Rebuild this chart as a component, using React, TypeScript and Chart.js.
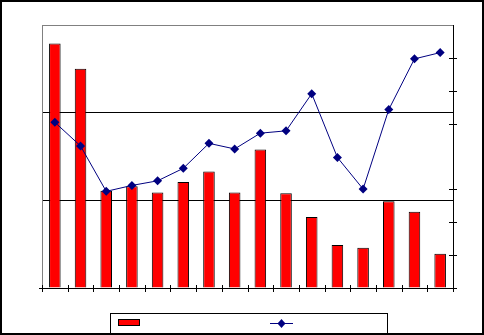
import React, { useEffect, useRef } from "react";
import { Chart, registerables } from "chart.js";

Chart.register(...registerables);

const categories: string[] = ["1", "2", "3", "4", "5", "6", "7", "8", "9", "10", "11", "12", "13", "14", "15", "16"];
const barValues: number[] = [2.79, 2.5, 1.11, 1.16, 1.09, 1.21, 1.33, 1.09, 1.58, 1.08, 0.81, 0.49, 0.46, 0.99, 0.87, 0.39];
const lineValues: number[] = [5.04, 4.32, 2.94, 3.12, 3.26, 3.64, 4.4, 4.23, 4.71, 4.78, 5.91, 3.97, 3.01, 5.43, 6.97, 7.16];
const rightTicks: number[] = [0, 1, 2, 3, 5, 6, 7];

const decorPlugin = {
  id: "decor",
  afterDraw(chart: any) {
    const ctx = chart.ctx;
    const area = chart.chartArea;
    const x = chart.scales.x;
    const y1 = chart.scales.y1;
    ctx.save();
    ctx.strokeStyle = "#000";
    ctx.lineWidth = 1;
    // category ticks (crossing)
    const n = categories.length;
    const w = (area.right - area.left) / n;
    for (let i = 0; i <= n; i++) {
      const px = Math.round(area.left + i * w) + 0.5;
      ctx.beginPath();
      ctx.moveTo(px, area.bottom - 3);
      ctx.lineTo(px, area.bottom + 4);
      ctx.stroke();
    }
    // extend x axis slightly left
    ctx.beginPath();
    ctx.moveTo(area.left - 3, Math.round(area.bottom) + 0.5);
    ctx.lineTo(area.left, Math.round(area.bottom) + 0.5);
    ctx.stroke();
    // right axis ticks (crossing)
    for (const v of rightTicks) {
      const py = Math.round(y1.getPixelForValue(v)) + 0.5;
      ctx.beginPath();
      ctx.moveTo(area.right - 4, py);
      ctx.lineTo(area.right + 4, py);
      ctx.stroke();
    }
    // legend box
    ctx.fillStyle = "#fff";
    ctx.fillRect(110, 313, 278, 22);
    ctx.strokeRect(110.5, 313.5, 277, 22);
    ctx.fillStyle = "#ff0000";
    ctx.fillRect(118, 319, 22, 7);
    ctx.strokeRect(118.5, 319.5, 21, 6);
    ctx.strokeStyle = "#000080";
    ctx.beginPath();
    ctx.moveTo(270, 323.5);
    ctx.lineTo(293, 323.5);
    ctx.stroke();
    ctx.fillStyle = "#000080";
    ctx.beginPath();
    ctx.moveTo(281.5, 319);
    ctx.lineTo(285.5, 323.5);
    ctx.lineTo(281.5, 328);
    ctx.lineTo(277.5, 323.5);
    ctx.closePath();
    ctx.fill();
    // outer border
    ctx.strokeStyle = "#000";
    ctx.lineWidth = 2;
    ctx.strokeRect(1, 1, chart.width - 2, chart.height - 2);
    ctx.restore();
  },
};

export default function App() {
  const ref = useRef<HTMLCanvasElement | null>(null);
  useEffect(() => {
    if (!ref.current) return;
    const chart = new Chart(ref.current, {
      type: "bar",
      data: {
        labels: categories,
        datasets: [
          {
            type: "line",
            data: lineValues,
            yAxisID: "y1",
            borderColor: "#000080",
            backgroundColor: "#000080",
            borderWidth: 1,
            pointStyle: "rectRot",
            pointRadius: 4.5,
            pointBackgroundColor: "#000080",
            pointBorderColor: "#000080",
            pointBorderWidth: 0,
            tension: 0,
            order: 0,
          } as any,
          {
            type: "bar",
            data: barValues,
            yAxisID: "y",
            backgroundColor: "#ff0000",
            borderColor: "#000",
            borderWidth: 1,
            categoryPercentage: 1,
            barPercentage: 0.45,
            order: 1,
          } as any,
        ],
      },
      options: {
        animation: false,
        responsive: false,
        layout: { padding: { top: 25, left: 0, right: 0, bottom: 0 } },
        plugins: { legend: { display: false }, tooltip: { enabled: false } },
        scales: {
          x: {
            ticks: { display: false },
            grid: { display: false, drawTicks: false },
            border: { display: true, color: "#000", width: 1 },
            afterFit: (s: any) => {
              s.height = 47;
            },
          },
          y: {
            position: "left",
            min: 0,
            max: 3,
            ticks: { display: false, stepSize: 1 },
            grid: {
              drawTicks: false,
              color: (c: any) => (c.tick && c.tick.value === 3 ? "#808080" : "#000"),
            },
            border: { display: true, color: "#808080", width: 1 },
            afterFit: (s: any) => {
              s.width = 42;
            },
          },
          y1: {
            position: "right",
            min: 0,
            max: 8,
            ticks: { display: false, stepSize: 1 },
            grid: { drawOnChartArea: false, drawTicks: false },
            border: { display: true, color: "#000", width: 1 },
            afterFit: (s: any) => {
              s.width = 31;
            },
          },
        },
      },
      plugins: [decorPlugin],
    });
    return () => chart.destroy();
  }, []);
  return (
    <div style={{ position: "absolute", left: 0, top: 0, width: 484, height: 335, background: "#fff" }}>
      <canvas ref={ref} width={484} height={335} style={{ display: "block" }} />
    </div>
  );
}
